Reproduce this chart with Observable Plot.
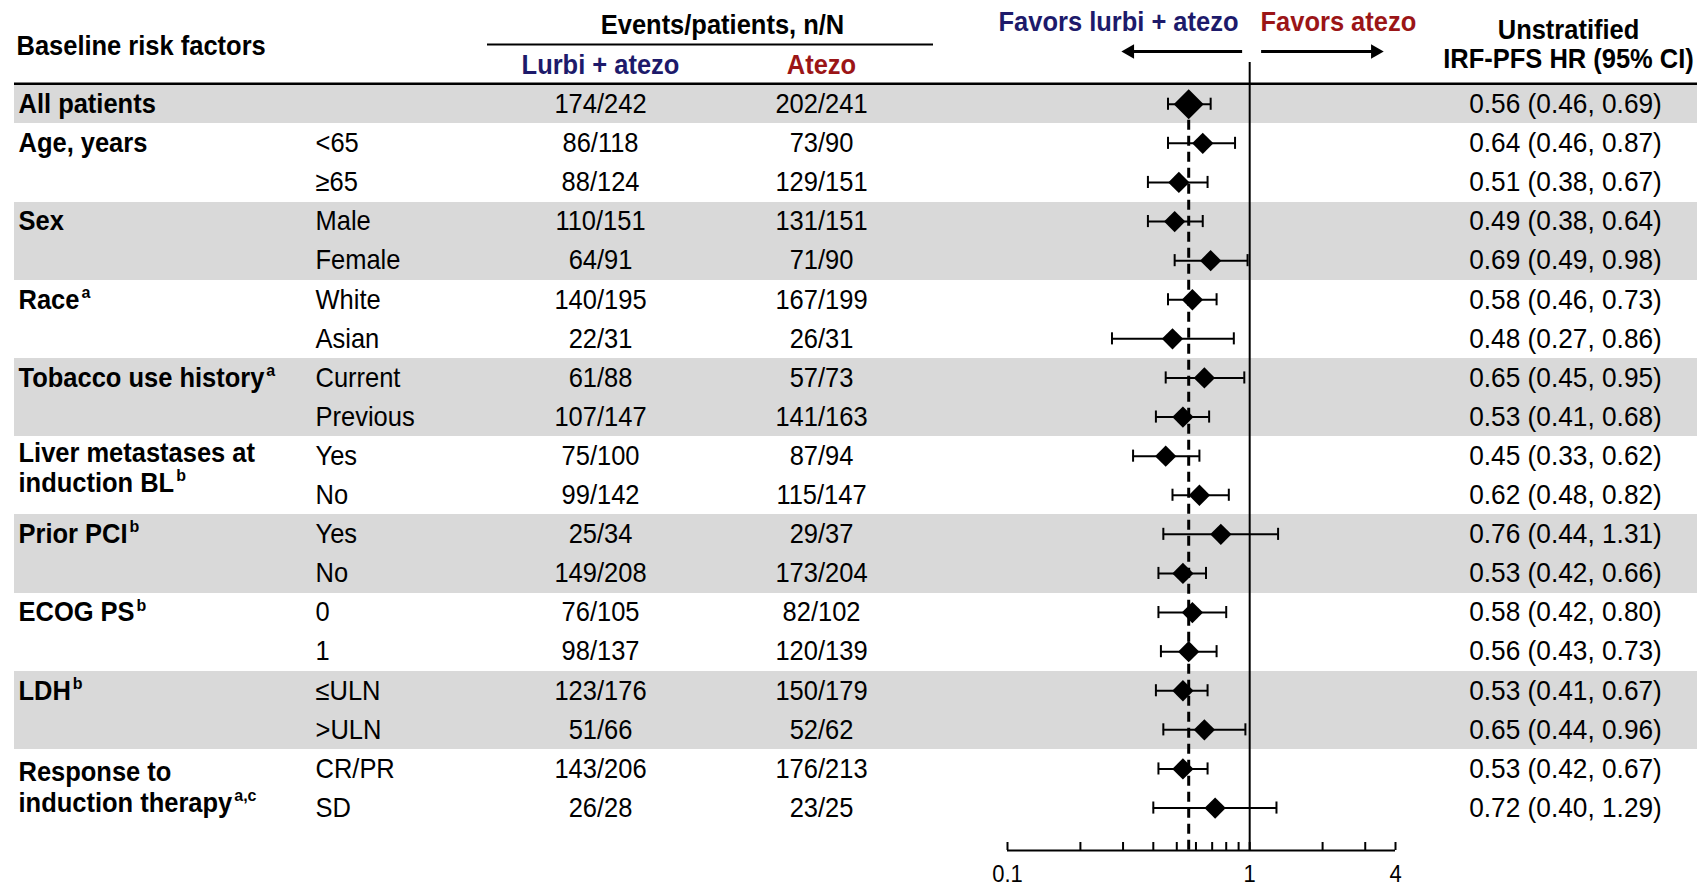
<!DOCTYPE html>
<html><head><meta charset="utf-8">
<script src="https://cdn.jsdelivr.net/npm/d3@7"></script>
<script src="https://cdn.jsdelivr.net/npm/@observablehq/plot@0.6"></script>
<style>
body{margin:0;background:#fff;}
#chart{position:relative;width:1697px;height:888px;}
#chart svg{position:absolute;left:0;top:0;}
</style></head><body><div id="chart"></div>
<script>
// ---------- data ----------
const groupLabels = ["All patients", "Age, years", "Sex", "Race^a", "Tobacco use history^a",
  "Liver metastases at\ninduction BL^b", "Prior PCI^b", "ECOG PS^b", "LDH^b", "Response to\ninduction therapy^a,c"];
const groupSizes = [1, 2, 2, 2, 2, 2, 2, 2, 2, 2];
const subgroups = ["", "<65", "≥65", "Male", "Female", "White", "Asian", "Current", "Previous",
  "Yes", "No", "Yes", "No", "0", "1", "≤ULN", ">ULN", "CR/PR", "SD"];
const lurbiEvents   = [174, 86, 88, 110, 64, 140, 22, 61, 107, 75, 99, 25, 149, 76, 98, 123, 51, 143, 26];
const lurbiPatients = [242, 118, 124, 151, 91, 195, 31, 88, 147, 100, 142, 34, 208, 105, 137, 176, 66, 206, 28];
const atezoEvents   = [202, 73, 129, 131, 71, 167, 26, 57, 141, 87, 115, 29, 173, 82, 120, 150, 52, 176, 23];
const atezoPatients = [241, 90, 151, 151, 90, 199, 31, 73, 163, 94, 147, 37, 204, 102, 139, 179, 62, 213, 25];
const hazardRatio = [0.56, 0.64, 0.51, 0.49, 0.69, 0.58, 0.48, 0.65, 0.53, 0.45, 0.62, 0.76, 0.53, 0.58, 0.56, 0.53, 0.65, 0.53, 0.72];
const ciLower     = [0.46, 0.46, 0.38, 0.38, 0.49, 0.46, 0.27, 0.45, 0.41, 0.33, 0.48, 0.44, 0.42, 0.42, 0.43, 0.41, 0.44, 0.42, 0.40];
const ciUpper     = [0.69, 0.87, 0.67, 0.64, 0.98, 0.73, 0.86, 0.95, 0.68, 0.62, 0.82, 1.31, 0.66, 0.80, 0.73, 0.67, 0.96, 0.67, 1.29];
const axisMinorTicks = [0.1, 0.2, 0.3, 0.4, 0.5, 0.6, 0.7, 0.8, 0.9, 1, 2, 3, 4];
const axisTickLabels = [0.1, 1, 4];
const favorArrows = [{from: 0.935, to: 0.32}, {from: 1.12, to: 3.3}];

// ---------- build table ----------
const groupOfRow = groupSizes.flatMap((n, g) => Array(n).fill(g));
const fmt = d3.format(".2f");
const rows = subgroups.map((s, i) => ({
  id: String(i), sub: s, group: groupOfRow[i],
  lurbi: `${lurbiEvents[i]}/${lurbiPatients[i]}`,
  atezo: `${atezoEvents[i]}/${atezoPatients[i]}`,
  hr: hazardRatio[i], lo: ciLower[i], hi: ciUpper[i],
  hrText: `${fmt(hazardRatio[i])} (${fmt(ciLower[i])}, ${fmt(ciUpper[i])})`
}));
const firstRowOfGroup = groupSizes.map((n, g) => String(groupOfRow.indexOf(g)));
const labels = groupLabels.map((t, g) => ({id: firstRowOfGroup[g], text: t, multi: t.includes("\n")}));

// ---------- layout ----------
const W = 1697, H = 888;
const ROW_TOP = 84.2, ROW_H = 39.1;
const FONT = 25.5, STRETCH = 1.08;
const NAVY = "#1d1a6b", RED = "#9b1517", GRAY = "#d9d9d9";
const FAMILY = "'Liberation Sans', Arial, Helvetica, sans-serif";
const yScale = {type: "band", domain: rows.map(d => d.id), range: [ROW_TOP, ROW_TOP + ROW_H * rows.length],
  padding: 0, round: false, axis: null};
const row0Center = ROW_TOP + ROW_H / 2;
const tableBottom = ROW_TOP + ROW_H * rows.length;

function header(text, x, y, anchor, fill = "#000") {
  return Plot.text([text], {text: d => d, frameAnchor: "top-left", dx: x, dy: y + 1, textAnchor: anchor,
    lineAnchor: "middle", fontWeight: "bold", fontSize: FONT, fill});
}

const table = Plot.plot({
  width: W, height: H, margin: 0,
  style: {fontFamily: FAMILY, background: "transparent", overflow: "visible"},
  y: yScale,
  marks: [
    Plot.cell(rows.filter(d => d.group % 2 === 0), {y: "id", fill: GRAY, insetLeft: 14, shapeRendering: "crispEdges"}),
    Plot.ruleY([rows[0].id], {y: d => d, dy: 83.2 - row0Center, strokeWidth: 2.5, insetLeft: 14}),
    Plot.ruleY([rows[0].id], {y: d => d, dy: 44 - row0Center, strokeWidth: 2, insetLeft: 487, insetRight: W - 933}),
    header("Baseline risk factors", 16, 45, "start"),
    header("Events/patients, n/N", 722, 24, "middle"),
    header("Lurbi + atezo", 600, 64, "middle", NAVY),
    header("Atezo", 821, 64, "middle", RED),
    header("Favors lurbi + atezo", 1238, 21, "end", NAVY),
    header("Favors atezo", 1260, 21, "start", RED),
    header("Unstratified", 1568, 29, "middle"),
    header("IRF-PFS HR (95% CI)", 1568, 58, "middle"),
    Plot.text(labels.filter(d => !d.multi), {y: "id", text: "text", frameAnchor: "left", dx: 18,
      textAnchor: "start", fontWeight: "bold", fontSize: FONT}),
    Plot.text(labels.filter(d => d.multi && d.id === firstRowOfGroup[5]), {y: "id", text: "text", frameAnchor: "left", dx: 18,
      textAnchor: "start", fontWeight: "bold", fontSize: FONT, lineAnchor: "top", lineHeight: 1.19 / STRETCH, dy: -16}),
    Plot.text(labels.filter(d => d.multi && d.id === firstRowOfGroup[9]), {y: "id", text: "text", frameAnchor: "left", dx: 18,
      textAnchor: "start", fontWeight: "bold", fontSize: FONT, lineAnchor: "top", lineHeight: 1.19 / STRETCH, dy: -9}),
    Plot.text(rows, {y: "id", text: "sub", frameAnchor: "left", dx: 315, textAnchor: "start", fontSize: FONT}),
    Plot.text(rows, {y: "id", text: "lurbi", frameAnchor: "left", dx: 600, textAnchor: "middle", fontSize: FONT}),
    Plot.text(rows, {y: "id", text: "atezo", frameAnchor: "left", dx: 821, textAnchor: "middle", fontSize: FONT}),
    Plot.text(rows, {y: "id", text: "hrText", frameAnchor: "left", dx: 1565, textAnchor: "middle", fontSize: FONT})
  ]
});

const axisBottom = 850;
const arrowY = 51 - row0Center;
const forest = Plot.plot({
  width: W, height: H, marginLeft: 1007, marginRight: W - 1395, marginTop: 62, marginBottom: H - axisBottom,
  style: {fontFamily: FAMILY, background: "transparent", overflow: "visible"},
  x: {type: "log", domain: [axisMinorTicks[0], axisMinorTicks[axisMinorTicks.length - 1]], label: null, axis: null},
  y: yScale,
  marks: [
    Plot.ruleX([1], {strokeWidth: 2}),
    Plot.ruleX([rows[0].hr], {y1: () => rows[0].id, y2: () => rows[rows.length - 1].id,
      insetTop: ROW_H / 2, insetBottom: -(axisBottom - tableBottom), strokeWidth: 3, strokeDasharray: "10,6"}),
    Plot.ruleY(rows, {x1: "lo", x2: "hi", y: "id", strokeWidth: 2}),
    Plot.tickX(rows, {x: "lo", y: "id", insetTop: 13.5, insetBottom: 13.5, strokeWidth: 2}),
    Plot.tickX(rows, {x: "hi", y: "id", insetTop: 13.5, insetBottom: 13.5, strokeWidth: 2}),
    Plot.dot(rows.slice(1), {x: "hr", y: "id", symbol: "diamond2", r: 9.6, fill: "#000"}),
    Plot.dot(rows.slice(0, 1), {x: "hr", y: "id", symbol: "diamond2", r: 13.5, fill: "#000"}),
    // axis
    Plot.ruleY([rows[rows.length - 1].id], {y: d => d, x1: axisMinorTicks[0], x2: axisMinorTicks[axisMinorTicks.length - 1],
      dy: axisBottom - (ROW_TOP + ROW_H * (rows.length - 0.5)), strokeWidth: 2}),
    Plot.tickX(axisMinorTicks, {x: d => d, insetTop: axisBottom - 62 - 8, strokeWidth: 2}),
    Plot.text(axisTickLabels, {x: d => d, text: d => String(d), frameAnchor: "bottom", dy: 31, fontSize: 22}),
    // favors arrows
    Plot.ruleY(favorArrows, {x1: "from", x2: "to", y: () => rows[0].id, dy: arrowY, strokeWidth: 3}),
    Plot.dot(favorArrows.slice(0, 1), {x: "to", y: () => rows[0].id, dy: arrowY, symbol: "triangle2", r: 7,
      rotate: -90, fill: "#000"}),
    Plot.dot(favorArrows.slice(1), {x: "to", y: () => rows[0].id, dy: arrowY, symbol: "triangle2", r: 7,
      rotate: 90, fill: "#000"})
  ]
});

// superscripts: "text^sup" -> tspan
function applySuperscripts(svg) {
  svg.querySelectorAll("text, tspan").forEach(el => {
    if (el.children.length) return;
    const s = el.textContent, i = s.indexOf("^");
    if (i < 0) return;
    el.textContent = s.slice(0, i);
    const sup = document.createElementNS("http://www.w3.org/2000/svg", "tspan");
    sup.setAttribute("font-size", "16");
    sup.setAttribute("dy", "-10");
    sup.setAttribute("dx", "2");
    sup.textContent = s.slice(i + 1);
    el.appendChild(sup);
  });
}
applySuperscripts(table);
// the source's lettering is slightly tall; the HR column is set a touch wider
const hrPattern = /^\d\.\d\d \(\d\.\d\d, \d\.\d\d\)$/;
function stretchText(svg) {
  svg.querySelectorAll("text").forEach(t => {
    const sx = hrPattern.test(t.textContent) ? 1.03 : 1;
    let tr = t.getAttribute("transform");
    if (tr == null) {
      const x = +(t.getAttribute("x") || 0), y = +(t.getAttribute("y") || 0);
      t.removeAttribute("x");
      t.removeAttribute("y");
      tr = `translate(${x},${y})`;
    }
    t.setAttribute("transform", `${tr} scale(${sx},${STRETCH})`);
  });
}
stretchText(table);
stretchText(forest);

const chart = document.getElementById("chart");
chart.appendChild(table);
chart.appendChild(forest);
</script></body></html>
